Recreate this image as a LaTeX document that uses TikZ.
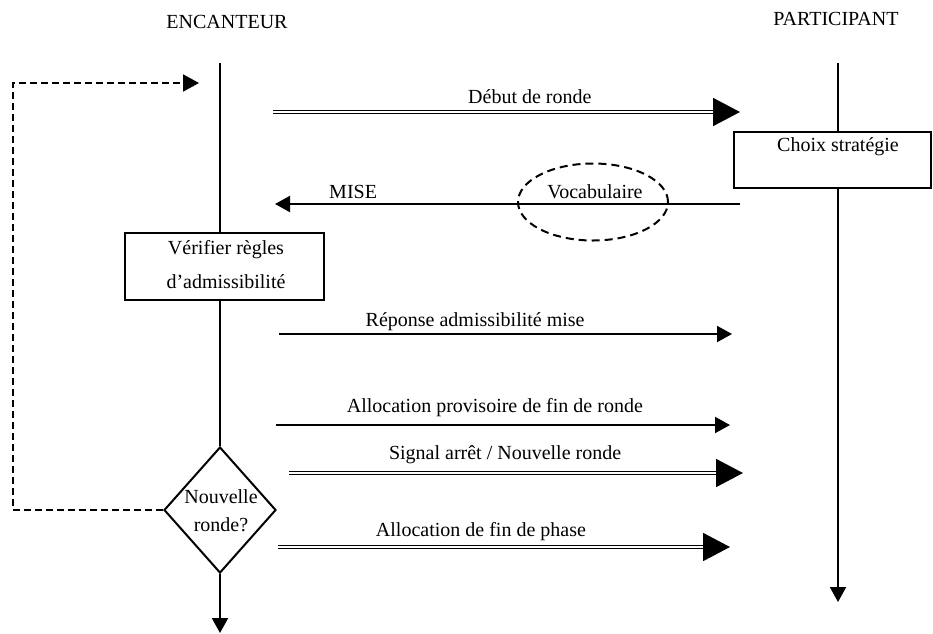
\documentclass[tikz,border=0pt]{standalone}
\usepackage{fontspec}
\setmainfont{Liberation Serif}
\usetikzlibrary{arrows.meta,shapes.geometric}
\begin{document}
\begin{tikzpicture}[x=1pt,y=-1pt,
  lbl/.style={font=\fontsize{20}{24}\selectfont, inner sep=0pt},
  wire/.style={line width=2pt},
  msg/.style={wire, -{Triangle[length=15pt,width=16pt]}},
  bigmsg/.style={line width=1.8pt, double, double distance=1.2pt,
                 -{Triangle[length=27pt,width=28pt]}},
  loopback/.style={wire, dash pattern=on 7pt off 4pt,
                   -{Triangle[length=16pt,width=17pt]}},
  procbox/.style={draw, line width=2pt, rectangle, inner sep=0pt},
]
\useasboundingbox (0,0) rectangle (933,633);

% column headings
\node[lbl] (hE) at (227,22) {ENCANTEUR};
\node[lbl] (hP) at (836,19) {PARTICIPANT};

% auctioneer lifeline
\coordinate (eTop) at (220,63);
\coordinate (eEnd) at (220,633);
\node[procbox, minimum width=199pt, minimum height=67pt] (verif) at (224.5,266.5) {};
\node[lbl, align=center, font=\fontsize{20}{34}\selectfont] (verifTxt) at (226,265)
  {Vérifier règles\\d’admissibilité};
\node[draw, diamond, line width=2pt, minimum width=112pt, minimum height=126pt,
      inner sep=0pt] (nr) at (220,510) {};
\node[lbl, align=center, font=\fontsize{20}{28}\selectfont] (nrTxt) at (221,511)
  {Nouvelle\\ronde?};
\draw[wire] (eTop) -- (eTop |- verif.north);
\draw[wire] (verif.south -| eTop) -- (nr.north);
\draw[msg] (nr.south) -- (eEnd);

% participant lifeline
\coordinate (pTop) at (838,63);
\coordinate (pEnd) at (838,602);
\node[procbox, minimum width=197pt, minimum height=56pt] (cs) at (832.5,160) {};
\node[lbl] (csTxt) at (838,147) {Choix stratégie};
\draw[wire] (pTop) -- (pTop |- cs.north);
\draw[msg] (pTop |- cs.south) -- (pEnd);

% loop back to a new round
\coordinate (loopCorner) at (13,83);
\coordinate (loopEnd) at (199,83);
\draw[loopback] (nr.west) -| (loopCorner) -- (loopEnd);

% messages
\coordinate (m1s) at (273,112);  \coordinate (m1e) at (740,112);
\coordinate (m2s) at (740,204);  \coordinate (m2e) at (275,204);
\coordinate (m3s) at (279,334);  \coordinate (m3e) at (732,334);
\coordinate (m4s) at (276,425);  \coordinate (m4e) at (730,425);
\coordinate (m5s) at (289,473);  \coordinate (m5e) at (743,473);
\coordinate (m6s) at (278,547);  \coordinate (m6e) at (730,547);

\draw[bigmsg] (m1s) -- node[lbl, pos=0.55, yshift=15pt] {Début de ronde} (m1e);

\node[draw, ellipse, line width=2pt, dash pattern=on 8pt off 5pt,
      minimum width=150pt, minimum height=77pt, inner sep=0pt] (voc) at (593,202) {};
\node[lbl] (vocTxt) at (595,192) {Vocabulaire};
\draw[msg] (m2s) -- node[lbl, pos=0.832, yshift=12pt] {MISE} (m2e);

\draw[msg] (m3s) -- node[lbl, pos=0.433, yshift=12pt] {Réponse admissibilité mise} (m3e);
\draw[msg] (m4s) -- node[lbl, pos=0.482, yshift=17pt] {Allocation provisoire de fin de ronde} (m4e);
\draw[bigmsg] (m5s) -- node[lbl, pos=0.476, yshift=18pt] {Signal arrêt / Nouvelle ronde} (m5e);
\draw[bigmsg] (m6s) -- node[lbl, pos=0.449, yshift=15pt] {Allocation de fin de phase} (m6e);
\end{tikzpicture}
\end{document}
